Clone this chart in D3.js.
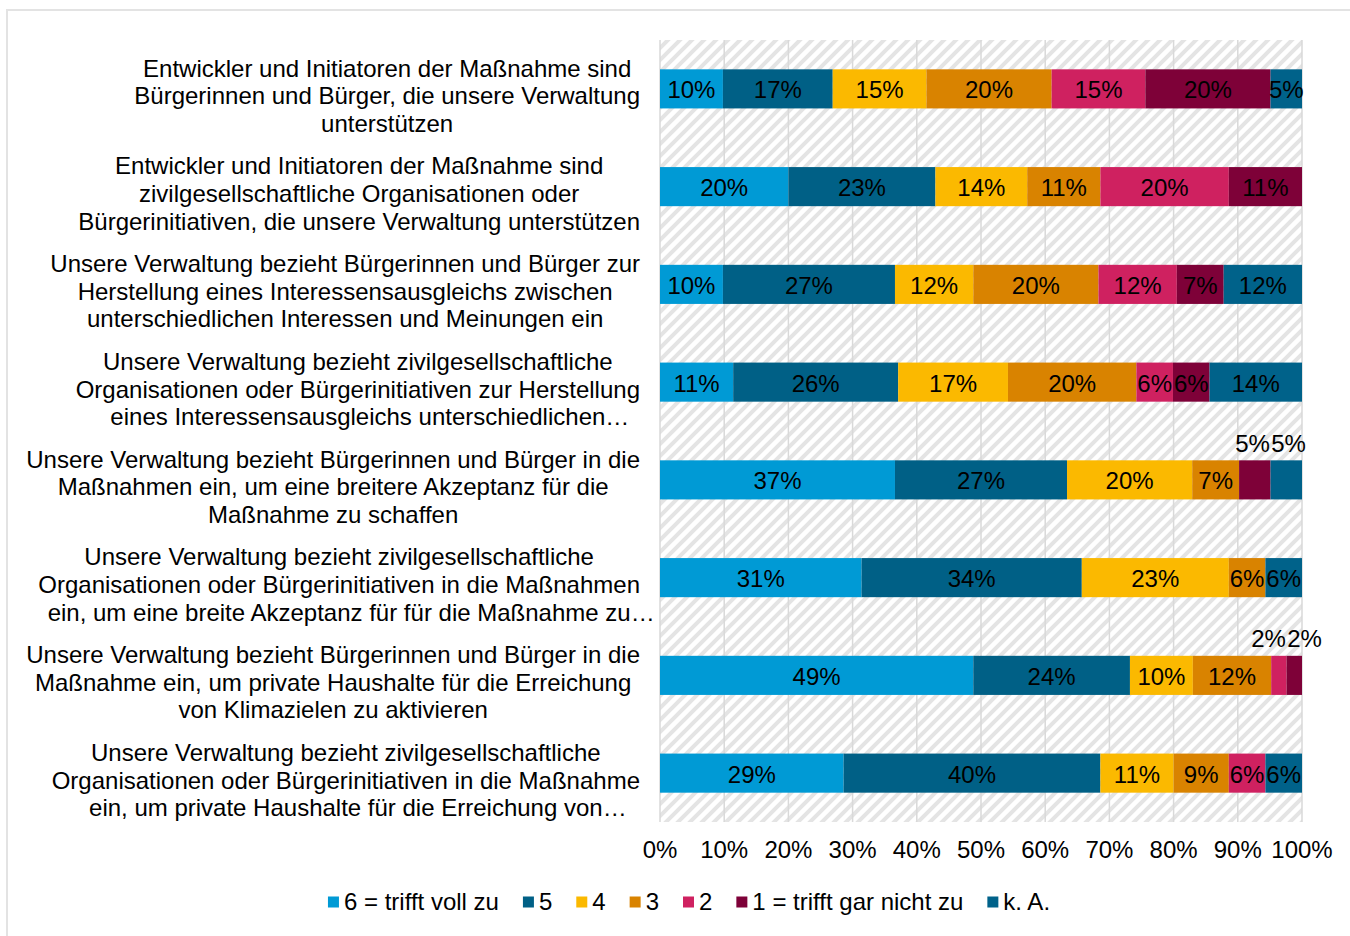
<!DOCTYPE html>
<html>
<head>
<meta charset="utf-8">
<script src="https://cdn.jsdelivr.net/npm/d3@7"></script>
<style>
  body { margin: 0; background: #fff; }
  text { font-family: "Liberation Sans", Arial, sans-serif; fill: #000; }
</style>
</head>
<body>
<script>
const width = 1350;
const height = 936;

// category labels, already wrapped like in the original
const categories = [
  ["Entwickler und Initiatoren der Maßnahme sind", "Bürgerinnen und Bürger, die unsere Verwaltung", "unterstützen"],
  ["Entwickler und Initiatoren der Maßnahme sind", "zivilgesellschaftliche Organisationen oder", "Bürgerinitiativen, die unsere Verwaltung unterstützen"],
  ["Unsere Verwaltung bezieht Bürgerinnen und Bürger zur", "Herstellung eines Interessensausgleichs zwischen", "unterschiedlichen Interessen und Meinungen ein"],
  ["Unsere Verwaltung bezieht zivilgesellschaftliche", "Organisationen oder Bürgerinitiativen zur Herstellung", "eines Interessensausgleichs unterschiedlichen…"],
  ["Unsere Verwaltung bezieht Bürgerinnen und Bürger in die", "Maßnahmen ein, um eine breitere Akzeptanz für die", "Maßnahme zu schaffen"],
  ["Unsere Verwaltung bezieht zivilgesellschaftliche", "Organisationen oder Bürgerinitiativen in die Maßnahmen", "ein, um eine breite Akzeptanz für für die Maßnahme zu…"],
  ["Unsere Verwaltung bezieht Bürgerinnen und Bürger in die", "Maßnahme ein, um private Haushalte für die Erreichung", "von Klimazielen zu aktivieren"],
  ["Unsere Verwaltung bezieht zivilgesellschaftliche", "Organisationen oder Bürgerinitiativen in die Maßnahme", "ein, um private Haushalte für die Erreichung von…"]
];

const levels = ["6 = trifft voll zu", "5", "4", "3", "2", "1 = trifft gar nicht zu", "k. A."];
const colors = ["#009ad5", "#006086", "#fbb900", "#d98300", "#cf2160", "#7e0138", "#00628a"];

// shares in percent, one array per answer
const s6 = [9.8, 20.0, 9.8, 11.4, 36.6, 31.4, 48.8, 28.6];
const s5 = [17.1, 22.9, 26.8, 25.7, 26.8, 34.3, 24.4, 40.0];
const s4 = [14.6, 14.3, 12.2, 17.1, 19.5, 22.9, 9.8, 11.4];
const s3 = [19.5, 11.4, 19.5, 20.0, 7.3, 5.7, 12.2, 8.6];
const s2 = [14.6, 20.0, 12.2, 5.7, 0, 0, 2.4, 5.7];
const s1 = [19.5, 11.4, 7.3, 5.7, 4.9, 0, 2.4, 0];
const sKA = [4.9, 0, 12.2, 14.4, 4.9, 5.7, 0, 5.7];

const ticks = [0, 10, 20, 30, 40, 50, 60, 70, 80, 90, 100];

const fs = 24;

const series = [s6, s5, s4, s3, s2, s1, sKA];
const rows = categories.map((c, i) => {
  const r = { idx: i };
  levels.forEach((l, j) => r[l] = series[j][i]);
  return r;
});
const stacked = d3.stack().keys(levels)(rows);

const svg = d3.select('body').append('svg')
  .attr('width', width)
  .attr('height', height);

// light frame like the exported chart area
svg.append('path')
  .attr('d', `M7,${height + 5}V10H${width + 5}`)
  .attr('fill', 'none')
  .attr('stroke', '#e3e3e3')
  .attr('stroke-width', 2);

const x = d3.scaleLinear().domain([0, 100]).range([660, 1302]);
const y = d3.scaleBand().domain(d3.range(categories.length)).range([40, 822])
  .paddingInner(0.6).paddingOuter(0.3);

// hatch background
const defs = svg.append('defs');
const pat = defs.append('pattern')
  .attr('id', 'hatch')
  .attr('patternUnits', 'userSpaceOnUse')
  .attr('width', 12).attr('height', 12);
pat.append('rect').attr('width', 12).attr('height', 12).attr('fill', '#fff');
pat.append('path')
  .attr('d', 'M-3,3L3,-3M0,12L12,0M9,15L15,9')
  .attr('stroke', '#e4e4e4')
  .attr('stroke-width', 4);

svg.append('rect')
  .attr('x', x(0)).attr('y', 40)
  .attr('width', x(100) - x(0)).attr('height', 782)
  .attr('fill', 'url(#hatch)');

svg.append('g')
  .selectAll('line')
  .data(ticks)
  .join('line')
  .attr('x1', d => x(d)).attr('x2', d => x(d))
  .attr('y1', 40).attr('y2', 822)
  .attr('stroke', '#d9d9d9')
  .attr('stroke-width', 1.5);

// bars
const layer = svg.append('g')
  .selectAll('g')
  .data(stacked)
  .join('g')
  .attr('fill', (d, i) => colors[i]);

layer.selectAll('rect')
  .data(d => d)
  .join('rect')
  .attr('x', d => x(d[0]))
  .attr('y', d => y(d.data.idx))
  .attr('width', d => x(d[1]) - x(d[0]))
  .attr('height', y.bandwidth());

// value labels
const labels = [];
stacked.forEach((s, j) => {
  s.forEach((d, i) => {
    const v = d[1] - d[0];
    if (v <= 0) return;
    labels.push({ row: i, key: j, v, x0: d[0], x1: d[1] });
  });
});
// a tiny segment next to another tiny one gets its label above the bar
labels.forEach(l => {
  const nb = labels.filter(o => o.row === l.row && Math.abs(o.key - l.key) === 1 && o.v < 5);
  l.above = l.v < 5 && nb.length > 0;
  l.cx = x((l.x0 + l.x1) / 2);
});
d3.groups(labels.filter(l => l.above), l => l.row).forEach(([r, ls]) => {
  const m = d3.mean(ls, l => l.cx);
  const gap = 36;
  ls.forEach((l, k) => l.cx = m + (k - (ls.length - 1) / 2) * gap);
});

svg.append('g')
  .selectAll('text')
  .data(labels)
  .join('text')
  .attr('x', d => d.cx)
  .attr('y', d => d.above ? y(d.row) - 17 : y(d.row) + y.bandwidth() / 2 + 1)
  .attr('dy', '0.35em')
  .attr('text-anchor', 'middle')
  .attr('font-size', fs)
  .text(d => Math.round(d.v) + '%');

// category labels
const catG = svg.append('g')
  .selectAll('g')
  .data(categories)
  .join('g');

catG.each(function (lines, i) {
  const g = d3.select(this);
  const lh = 27.6;
  const cy = y(i) + y.bandwidth() / 2 + 7;
  const t = g.selectAll('text')
    .data(lines)
    .join('text')
    .attr('font-size', fs)
    .attr('text-anchor', 'middle')
    .attr('dy', '0.35em')
    .attr('y', (d, k) => cy + (k - (lines.length - 1) / 2) * lh)
    .text(d => d);
  // truncated lines (…) don't count for the block width and sit a bit to the right
  const maxW = d3.max(t.nodes().filter(n => !n.textContent.endsWith('…')), n => n.getComputedTextLength());
  t.attr('x', d => 640 - maxW / 2 + (d.endsWith('…') ? 12 : 0));
});

// x axis tick labels
svg.append('g')
  .selectAll('text')
  .data(ticks)
  .join('text')
  .attr('x', d => x(d))
  .attr('y', 850)
  .attr('dy', '0.35em')
  .attr('text-anchor', 'middle')
  .attr('font-size', fs)
  .text(d => d + '%');

// legend
const leg = svg.append('g');
const items = leg.selectAll('g')
  .data(levels)
  .join('g');
items.append('rect')
  .attr('width', 11).attr('height', 11)
  .attr('y', 902 - 5.5)
  .attr('fill', (d, i) => colors[i]);
items.append('text')
  .attr('x', 16)
  .attr('y', 902)
  .attr('dy', '0.35em')
  .attr('font-size', fs)
  .text(d => d);
let pos = 0;
items.each(function () {
  const w = d3.select(this).select('text').node().getComputedTextLength();
  d3.select(this).attr('transform', `translate(${pos},0)`);
  pos += 16 + w + 24;
});
const total = pos - 24;
leg.attr('transform', `translate(${689 - total / 2},0)`);
</script>
</body>
</html>
